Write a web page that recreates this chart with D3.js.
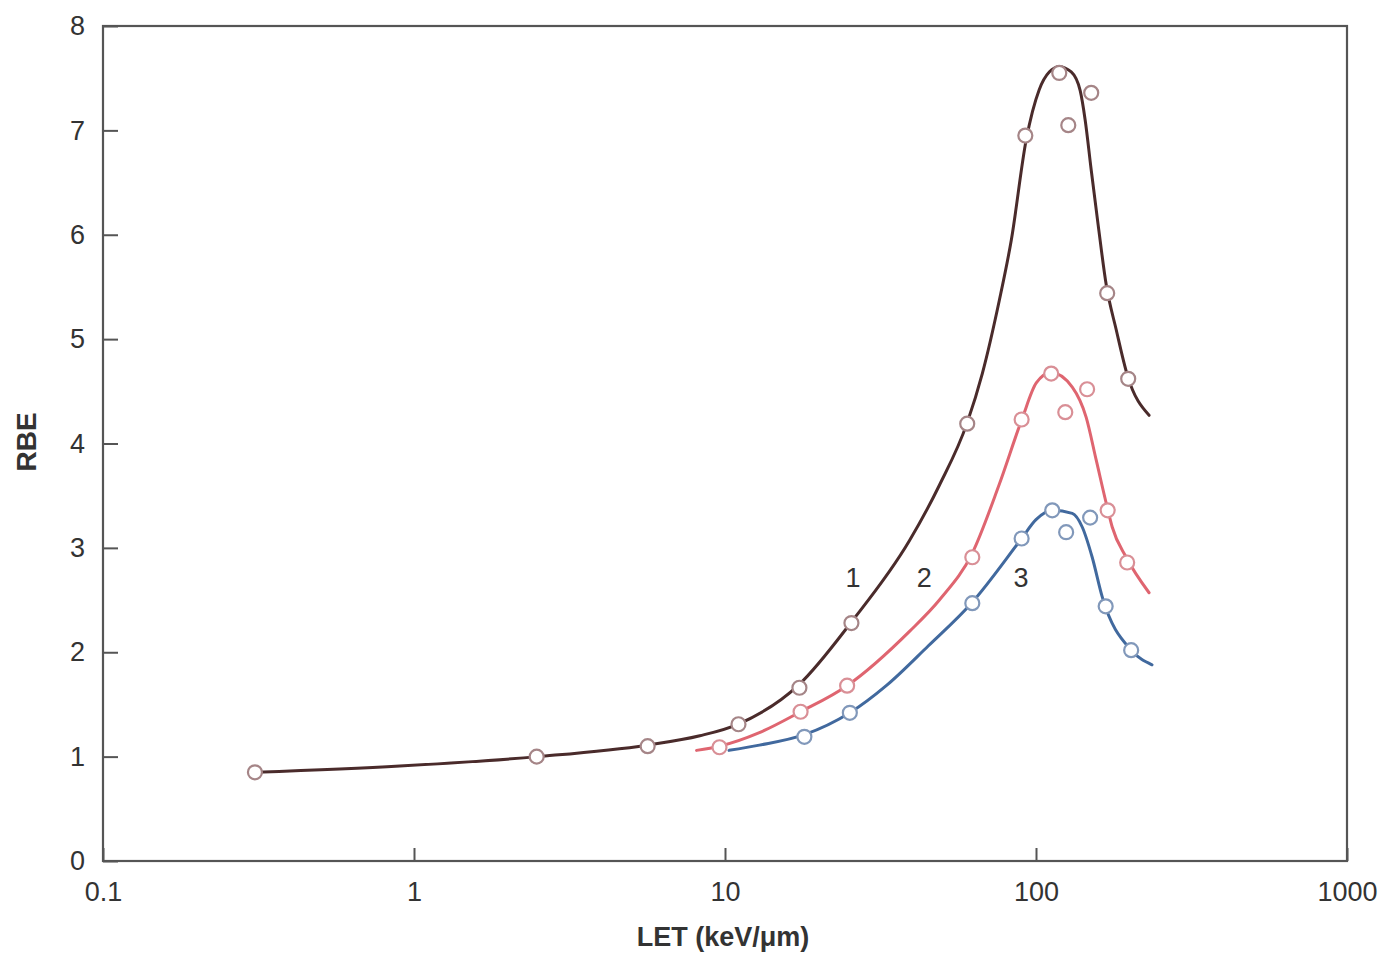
<!DOCTYPE html>
<html>
<head>
<meta charset="utf-8">
<script src="https://cdn.jsdelivr.net/npm/d3@7"></script>
<style>
  html, body { margin: 0; padding: 0; background: #fff; }
  svg { display: block; }
  text { font-family: "Liberation Sans", Arial, Helvetica, sans-serif; fill: #333; }
</style>
</head>
<body>
<svg id="chart" width="1383" height="955"></svg>
<script>
// ---- Data ----
const xTicks = [0.1, 1, 10, 100, 1000];
const xTickLabels = ["0.1", "1", "10", "100", "1000"];
const yTicks = [0, 1, 2, 3, 4, 5, 6, 7, 8];

// Fitted curves [LET, RBE]
const curve1 = [[0.31,0.85],[0.9,0.91],[2.5,1.0],[5.6,1.11],[8.3,1.2],[11,1.31],[17.3,1.69],[25.5,2.29],
  [39.2,3.07],[48.9,3.6],[60.1,4.2],[67.2,4.67],[76.2,5.37],[83.3,5.95],[93,6.91],[102.4,7.39],[110.3,7.56],
  [118.8,7.61],[129.8,7.56],[138.7,7.38],[143.9,7.1],[150.5,6.62],[158.5,6.09],[168.2,5.52],[181.1,5.09],
  [196.4,4.66],[231,4.27]];
const curve2 = [[8.1,1.06],[9.6,1.1],[12.9,1.23],[17.5,1.43],[24.7,1.68],[39.2,2.2],[48.9,2.5],[62.4,2.95],
  [76,3.6],[90.3,4.24],[100.2,4.58],[111.9,4.68],[130.8,4.54],[145,4.25],[156.2,3.84],[169.4,3.39],
  [175.8,3.2],[195,2.91],[231,2.57]];
const curve3 = [[10.3,1.06],[12.9,1.11],[18,1.21],[25.2,1.42],[33,1.68],[45,2.06],[62.4,2.48],[89.9,3.09],
  [100,3.27],[112.8,3.36],[130.8,3.33],[140.8,3.2],[151.6,2.91],[163.3,2.53],[202.3,2.02],[236,1.88]];

// Measured points [LET, RBE]
const points1 = [[0.308,0.85],[2.48,1.0],[5.64,1.1],[11.05,1.31],[17.35,1.66],[25.5,2.28],[60.1,4.19],
  [92.4,6.95],[118.8,7.55],[127,7.05],[150.5,7.36],[169.4,5.44],[197.9,4.62]];
const points2 = [[9.6,1.09],[17.5,1.43],[24.7,1.68],[62.4,2.91],[89.9,4.23],[111.9,4.67],[124.2,4.3],
  [146,4.52],[170,3.36],[196.4,2.86]];
const points3 = [[18,1.19],[25.2,1.42],[62.4,2.47],[89.9,3.09],[112.8,3.36],[125,3.15],[149.3,3.29],
  [167.5,2.44],[202.3,2.02]];

const curveLabels = [
  { text: "1", let: 25.8, rbe: 2.72 },
  { text: "2", let: 43.7, rbe: 2.72 },
  { text: "3", let: 89.5, rbe: 2.72 }
];

const series = [
  { line: curve1, pts: points1, color: "#4a2b2b", mark: "#a58587" },
  { line: curve2, pts: points2, color: "#df6570", mark: "#d98f96" },
  { line: curve3, pts: points3, color: "#41699e", mark: "#8198ba" }
];

// ---- Layout ----
const svg = d3.select("#chart");
const mLeft = 103, mRight = 1347, mTop = 26, mBottom = 861;
const x = d3.scaleLog().domain([0.1, 1000]).range([mLeft, mRight]);
const y = d3.scaleLinear().domain([0, 8]).range([mBottom, mTop]);

// frame
svg.append("rect")
  .attr("x", mLeft).attr("y", mTop)
  .attr("width", mRight - mLeft).attr("height", mBottom - mTop)
  .attr("fill", "none").attr("stroke", "#555").attr("stroke-width", 2.2);

// x axis
const xAxis = svg.append("g").attr("transform", `translate(0,${mBottom})`)
  .call(d3.axisBottom(x).tickValues(xTicks)
    .tickFormat((d, i) => xTickLabels[i]).tickSizeInner(-13).tickSizeOuter(0).tickPadding(21));
xAxis.select(".domain").remove();
xAxis.selectAll(".tick line").attr("stroke", "#555").attr("stroke-width", 2);
xAxis.selectAll(".tick text").attr("font-size", 27).attr("fill", "#333")
  .style("font-family", "'Liberation Sans', Arial, sans-serif");

// y axis
const yAxis = svg.append("g").attr("transform", `translate(${mLeft},0)`)
  .call(d3.axisLeft(y).tickValues(yTicks).tickFormat(d3.format("d"))
    .tickSizeInner(-15).tickSizeOuter(0).tickPadding(18));
yAxis.select(".domain").remove();
yAxis.selectAll(".tick line").attr("stroke", "#555").attr("stroke-width", 2);
yAxis.selectAll(".tick text").attr("font-size", 27).attr("fill", "#333")
  .style("font-family", "'Liberation Sans', Arial, sans-serif");

// axis titles
svg.append("text").attr("x", 723).attr("y", 946).attr("text-anchor", "middle")
  .attr("font-size", 27).attr("font-weight", "bold").text("LET (keV/μm)");
svg.append("text").attr("transform", "translate(36,442) rotate(-90)").attr("text-anchor", "middle")
  .attr("font-size", 28).attr("font-weight", "bold").text("RBE");

// curves
const line = d3.line().x(d => x(d[0])).y(d => y(d[1])).curve(d3.curveMonotoneX);
series.forEach(s => {
  svg.append("path").datum(s.line).attr("d", line)
    .attr("fill", "none").attr("stroke", s.color).attr("stroke-width", 3)
    .attr("stroke-linecap", "round");
});
series.forEach(s => {
  svg.append("g").selectAll("circle").data(s.pts).join("circle")
    .attr("cx", d => x(d[0])).attr("cy", d => y(d[1])).attr("r", 7)
    .attr("fill", "#fff").attr("stroke", s.mark).attr("stroke-width", 2.2);
});

// curve labels
svg.append("g").selectAll("text").data(curveLabels).join("text")
  .attr("x", d => x(d.let)).attr("y", d => y(d.rbe)).attr("dy", "0.35em")
  .attr("text-anchor", "middle").attr("font-size", 27).attr("fill", "#333")
  .text(d => d.text);
</script>
</body>
</html>
